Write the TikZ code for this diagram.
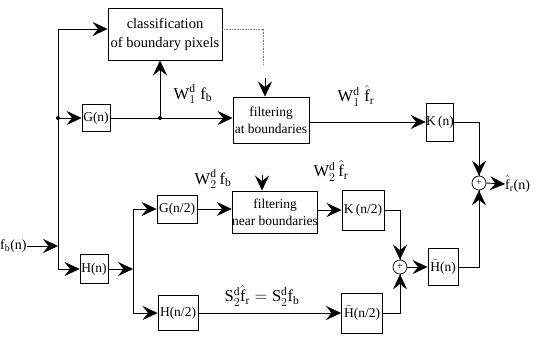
\documentclass[tikz,border=0pt]{standalone}
\usepackage{fontspec}
\setmainfont{Liberation Serif}
\usetikzlibrary{arrows.meta}
\begin{document}
\begin{tikzpicture}[x=1pt,y=-1pt,
  blk/.style={draw, line width=0.9pt, rectangle, inner sep=0pt, align=center, font=\fontsize{13.5}{15}\selectfont},
  sumc/.style={draw, line width=0.7pt, circle, minimum size=14pt, inner sep=0pt, font=\fontsize{10}{10}\selectfont},
  lbl/.style={inner sep=0pt, font=\fontsize{16.5}{18}\selectfont},
  ln/.style={line width=0.9pt},
  ar/.style={line width=0.9pt, -{Stealth[length=15pt,width=14pt,inset=5.5pt,line width=0.5pt]}},
  dt/.style={circle, fill, inner sep=0pt, minimum size=4pt}]
\useasboundingbox (0,0) rectangle (536,338);
% nodes
\node[blk, minimum width=114pt, minimum height=52pt, font=\fontsize{14.5}{19}\selectfont] (cls) at (165,34) {classification\\of boundary pixels};
\node[blk, minimum width=28pt, minimum height=27pt] (G) at (96,118) {G(n)};
\node[blk, minimum width=76pt, minimum height=46pt, font=\fontsize{13.5}{17}\selectfont] (fab) at (271,120) {filtering\\at boundaries};
\node[blk, minimum width=27pt, minimum height=38pt] (K) at (440,122) {K\,(n)};
\node[sumc] (s1) at (479,183) {+};
\node[lbl, anchor=west, font=\fontsize{14}{15}\selectfont] (out) at (505,184) {$\hat{\mathrm f}_{\mathrm r}$(n)};
\node[lbl, anchor=west, font=\fontsize{14}{15}\selectfont] (fb) at (0,246) {f$_{\mathrm b}$(n)};
\node[blk, minimum width=28pt, minimum height=29pt] (H) at (94,269) {H(n)};
\node[blk, minimum width=40pt, minimum height=28pt] (G2) at (177,209) {G(n/2)};
\node[blk, minimum width=40pt, minimum height=35pt] (H2) at (178,313) {H(n/2)};
\node[blk, minimum width=84pt, minimum height=42pt, font=\fontsize{13.5}{17}\selectfont] (fnb) at (275,212) {filtering\\near boundaries};
\node[blk, minimum width=42pt, minimum height=40pt] (K2) at (363,210) {K\,(n/2)};
\node[sumc] (s2) at (400,267) {+};
\node[blk, minimum width=30pt, minimum height=37pt] (Ht) at (443,267) {$\widetilde{\mathrm H}$(n)};
\node[blk, minimum width=41pt, minimum height=40pt] (Ht2) at (362,313) {$\widetilde{\mathrm H}$(n/2)};
% labels
\node[lbl] (l1) at (193,94) {$\mathrm W^{\mathrm d}_{1}\;\mathrm f_{\mathrm b}$};
\node[lbl] (l2) at (356,96) {$\mathrm W^{\mathrm d}_{1}\;\hat{\mathrm f}_{\mathrm r}$};
\node[lbl] (l3) at (213,179) {$\mathrm W^{\mathrm d}_{2}\,\mathrm f_{\mathrm b}$};
\node[lbl] (l4) at (331,171) {$\mathrm W^{\mathrm d}_{2}\,\hat{\mathrm f}_{\mathrm r}$};
\node[lbl] (l5) at (262,296) {$\mathrm S^{\mathrm d}_{2}\hat{\mathrm f}_{\mathrm r}=\mathrm S^{\mathrm d}_{2}\mathrm f_{\mathrm b}$};
% coordinates
\coordinate (ltop) at (58,29);
\coordinate (lbot) at (58,269);
\node[dt] (d1) at (58,118) {};
\node[dt] (d2) at (160,118) {};
\coordinate (sp1) at (133,209);
\coordinate (sp2) at (133,313);
\coordinate (spm) at (133,269);
\coordinate (dc) at (263,64);
\coordinate (fabin) at (265,78);
\coordinate (fnbin) at (262,175);
% connectors
\draw[ar] (fb.east) -- (fb.east -| ltop);
\draw[ln] (ltop) -- (lbot);
\draw[ar] (ltop) -- (ltop -| cls.west);
\draw[ar] (lbot) -- (H.west);
\draw[ar] (d1) -- (G.west);
\draw[ar] (G.east) -- (G.east -| fab.west);
\draw[ar] (d2) -- (d2 |- cls.south);
\draw[densely dotted, line width=0.6pt, gray] (cls.east |- ltop) -| (dc);
\draw[ar] (fabin) -- (fabin |- fab.north);
\draw[ar] (fab.east |- K.west) -- (K.west);
\draw[ln] (K.east) -| (s1.north);
\draw[ar] (s1.north) ++(0,-20) -- (s1.north);
\draw[ar] (s1.east) -- (out.west);
\draw[ar] (H.east) -- (spm);
\draw[ln] (sp1) -- (sp2);
\draw[ar] (sp1) -- (G2.west);
\draw[ar] (sp2) -- (H2.west);
\draw[ar] (G2.east) -- (G2.east -| fnb.west);
\draw[ar] (fnbin) -- (fnbin |- fnb.north);
\draw[ar] (fnb.east |- K2.west) -- (K2.west);
\draw[ln] (K2.east) -| (s2.north);
\draw[ar] (s2.north) ++(0,-20) -- (s2.north);
\draw[ar] (H2.east) -- (Ht2.west);
\draw[ln] (Ht2.east) -| (s2.south);
\draw[ar] (s2.south) ++(0,20) -- (s2.south);
\draw[ar] (s2.east) -- (Ht.west);
\draw[ln] (Ht.east) -| (s1.south);
\draw[ar] (s1.south) ++(0,20) -- (s1.south);
\end{tikzpicture}
\end{document}
